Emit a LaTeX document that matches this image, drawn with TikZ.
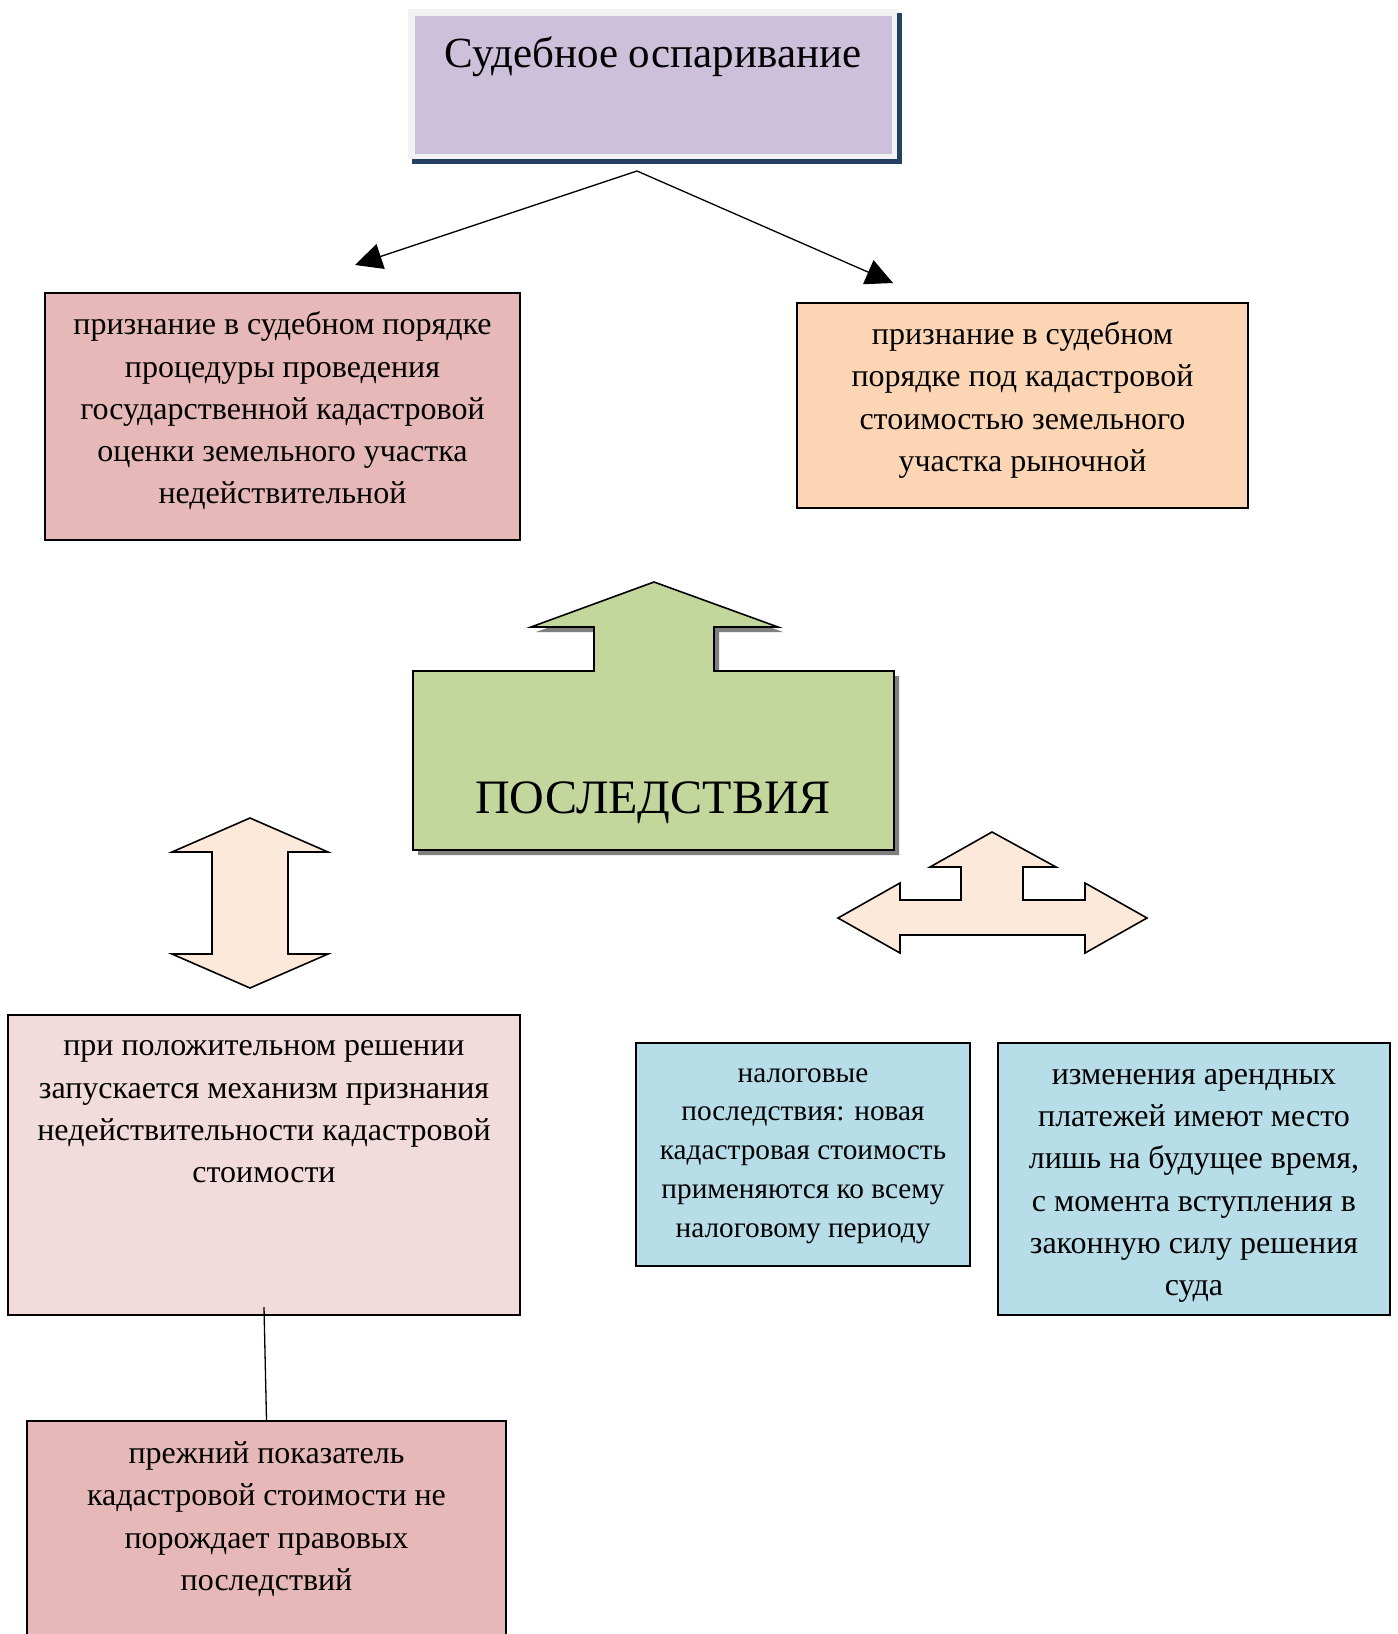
\documentclass[tikz,border=0pt]{standalone}
\usepackage{fontspec}
\setmainfont{Liberation Serif}
\usetikzlibrary{arrows.meta,calc}
\definecolor{purplebox}{HTML}{CCC0DA}
\definecolor{framegray}{HTML}{F2F2F2}
\definecolor{navyshadow}{HTML}{243F60}
\definecolor{redbox}{HTML}{E6B8B7}
\definecolor{orangebox}{HTML}{FCD5B5}
\definecolor{greenarrow}{HTML}{C3D69B}
\definecolor{peach}{HTML}{FDE9D9}
\definecolor{pinkbox}{HTML}{F2DCDB}
\definecolor{bluebox}{HTML}{B7DEE8}
\definecolor{grayshadow}{HTML}{7F7F7F}
\tikzset{
  boxshape/.style={draw=black, line width=1.8pt, inner sep=0pt, minimum width=#1},
  txt/.style={align=center, inner sep=0pt, font=\fontsize{32}{42.3}\selectfont},
  smalltxt/.style={align=center, inner sep=0pt, font=\fontsize{29.3}{38.8}\selectfont},
  blockarrow/.style={draw=black, line width=1.6pt, line join=miter, fill=#1},
  conn/.style={line width=1.3pt, -{Triangle[length=27pt,width=26pt]}}
}
\begin{document}
\begin{tikzpicture}[x=1pt,y=-1pt]
\useasboundingbox[fill=white] (0,0) rectangle (1398,1634);

% title box
\fill[navyshadow] (412,13) rectangle (902,164);
\fill[framegray] (408,9) rectangle (897,159);
\node[fill=purplebox, inner sep=0pt, minimum width=477pt, minimum height=138pt] (title) at (653,85) {};
\node[anchor=base, inner sep=0pt, font=\fontsize{43}{52}\selectfont] (titletext) at (653,67) {Судебное оспаривание};

% arrows from title
\coordinate (apex) at (637,171);
\coordinate (ltip) at (355,265);
\coordinate (rtip) at (893,283);
\draw[conn] (apex) -- (ltip);
\draw[conn] (apex) -- (rtip);

% left red box
\node[boxshape=475pt, minimum height=247pt, fill=redbox] (lbox) at (282.5,416.5) {};
\node[txt] (lboxtext) at (282.5,411) {признание в судебном порядке\\процедуры проведения\\государственной кадастровой\\оценки земельного участка\\недействительной};

% right orange box
\node[boxshape=451pt, minimum height=205pt, fill=orangebox] (rbox) at (1022.5,405.5) {};
\node[txt] (rboxtext) at (1022.5,400) {признание в судебном\\порядке под кадастровой\\стоимостью земельного\\участка рыночной};

% green big arrow
\fill[grayshadow] (418,676) -- (599,676) -- (599,632) -- (536,632) -- (659,587) -- (783,632) -- (719,632) -- (719,676) -- (899,676) -- (899,855) -- (418,855) -- cycle;
\draw[blockarrow=greenarrow] (413,671) -- (594,671) -- (594,627) -- (531,627) -- (654,582) -- (778,627) -- (714,627) -- (714,671) -- (894,671) -- (894,850) -- (413,850) -- cycle;
\node[anchor=base, inner sep=0pt, font=\fontsize{48}{58}\selectfont] (posl) at (653,813) {ПОСЛЕДСТВИЯ};

% left double arrow
\draw[blockarrow=peach] (250,818) -- (328,852) -- (288,852) -- (288,954) -- (328,954) -- (250,988) -- (172,954) -- (212,954) -- (212,852) -- (172,852) -- cycle;

% right three-way arrow
\draw[blockarrow=peach] (992,832) -- (1056,867) -- (1023,867) -- (1023,900) -- (1085,900) -- (1085,883) -- (1147,918) -- (1085,953) -- (1085,935) -- (900,935) -- (900,953) -- (838,918) -- (900,883) -- (900,900) -- (961,900) -- (961,867) -- (930,867) -- cycle;

% lower-left pink box
\node[boxshape=512pt, minimum height=300pt, fill=pinkbox] (pbox) at (264,1165) {};
\node[txt] (pboxtext) at (264,1112) {при положительном решении\\запускается механизм признания\\недействительности кадастровой\\стоимости};

% blue boxes
\node[boxshape=334pt, minimum height=223pt, fill=bluebox] (b1) at (803,1154.5) {};
\node[smalltxt] (b1text) at (803,1156) {налоговые\\последствия: новая\\кадастровая стоимость\\применяются ко всему\\налоговому периоду};
\node[boxshape=392pt, minimum height=272pt, fill=bluebox] (b2) at (1194,1179) {};
\node[txt] (b2text) at (1194,1186) {изменения арендных\\платежей имеют место\\лишь на будущее время,\\с момента вступления в\\законную силу решения\\суда};

% bottom box
\node[boxshape=479pt, minimum height=240pt, fill=redbox, anchor=north] (bbox) at (266.5,1420) {};
\node[txt] (bboxtext) at (266.5,1519) {прежний показатель\\кадастровой стоимости не\\порождает правовых\\последствий};

\coordinate (linetop) at (264,1307);
\draw[line width=1.3pt] (linetop) -- (bbox.north);
\end{tikzpicture}
\end{document}
